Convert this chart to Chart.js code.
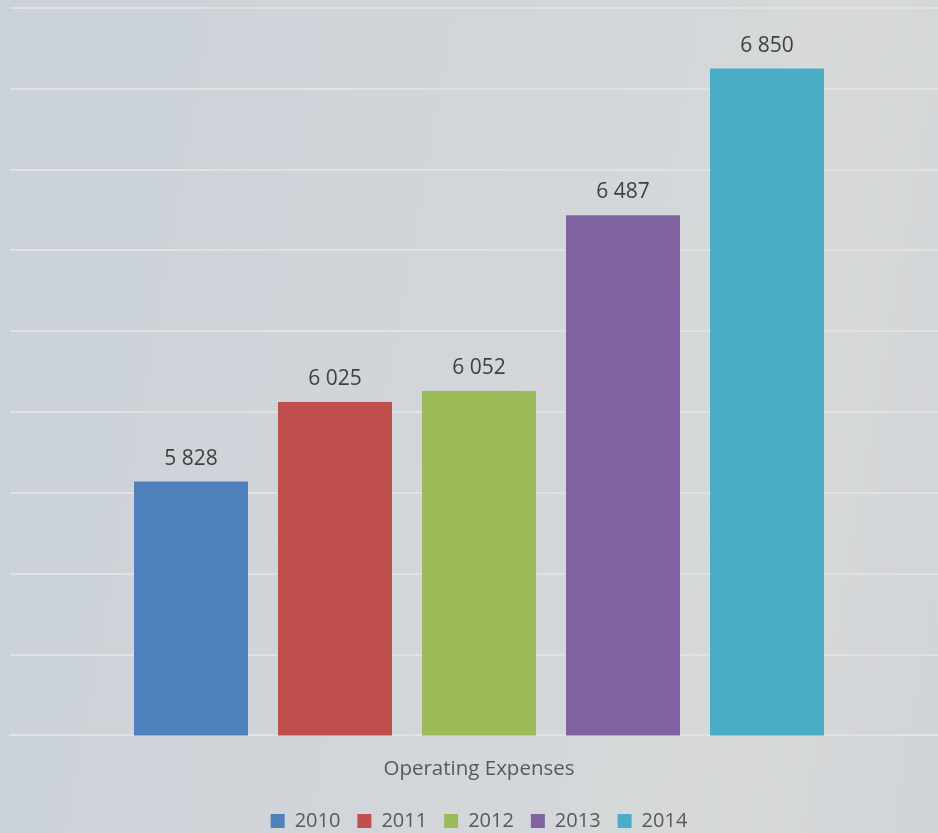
<!DOCTYPE html>
<html>
<head>
<meta charset="utf-8">
<script src="https://cdn.jsdelivr.net/npm/chart.js@4.4.1/dist/chart.umd.min.js"></script>
<style>
  html, body { margin: 0; padding: 0; overflow: hidden; }
  body {
    width: 938px; height: 833px;
    background: linear-gradient(100deg, #cad1d9 0%, #d2d6da 50%, #d7d9d9 80%, #d0d3d8 100%);
  }
  #wrap { position: relative; width: 958px; height: 833px; }
</style>
</head>
<body>
<div id="wrap"><canvas id="myChart"></canvas></div>
<script>
const categories = ['Operating Expenses']
const years = ['2010', '2011', '2012', '2013', '2014']
const expenses = [5828, 6025, 6052, 6487, 6850]
const colors = ['#4f81bd', '#c0504d', '#9bbb59', '#8064a2', '#4bacc6']
const yMin = 5200, yMax = 7000, yStep = 200

const gridColor = 'rgba(226,226,224,0.9)'

// numbers like "6 850"
function fmt(v) {
  return String(v).replace(/\B(?=(\d{3})+(?!\d))/g, ' ')
}

// writes each bar's value above it
const valueLabels = {
  id: 'valueLabels',
  afterDatasetsDraw(chart) {
    const ctx = chart.ctx
    ctx.save()
    ctx.font = '21px "Open Sans"'
    ctx.fillStyle = '#404040'
    ctx.textAlign = 'center'
    ctx.textBaseline = 'alphabetic'
    chart.data.datasets.forEach((ds, i) => {
      chart.getDatasetMeta(i).data.forEach((bar, j) => {
        ctx.fillText(fmt(ds.data[j]), bar.x, bar.y - 17)
      })
    })
    ctx.restore()
  }
}

new Chart(document.getElementById('myChart').getContext('2d'), {
  type: 'bar',
  data: {
    labels: categories,
    datasets: years.map((y, i) => ({
      label: y,
      data: [expenses[i]],
      backgroundColor: colors[i],
      categoryPercentage: 0.7676,
      barPercentage: 0.7917
    }))
  },
  options: {
    responsive: true,
    maintainAspectRatio: false,
    animation: false,
    layout: { padding: { left: 10, right: 10, top: 8, bottom: -8 } },
    plugins: {
      legend: {
        position: 'bottom',
        labels: {
          boxWidth: 14, boxHeight: 14, padding: 17,
          color: '#595959',
          font: { family: 'Open Sans', size: 20 }
        }
      },
      tooltip: { enabled: false }
    },
    scales: {
      x: {
        grid: { display: false },
        border: { color: gridColor, width: 2 },
        ticks: { color: '#595959', font: { family: 'Open Sans', size: 20.5 }, padding: 13 }
      },
      y: {
        min: yMin, max: yMax,
        ticks: { display: false, stepSize: yStep },
        border: { display: false },
        grid: { color: gridColor, lineWidth: 2, drawTicks: false }
      }
    }
  },
  plugins: [valueLabels]
})
</script>
</body>
</html>
